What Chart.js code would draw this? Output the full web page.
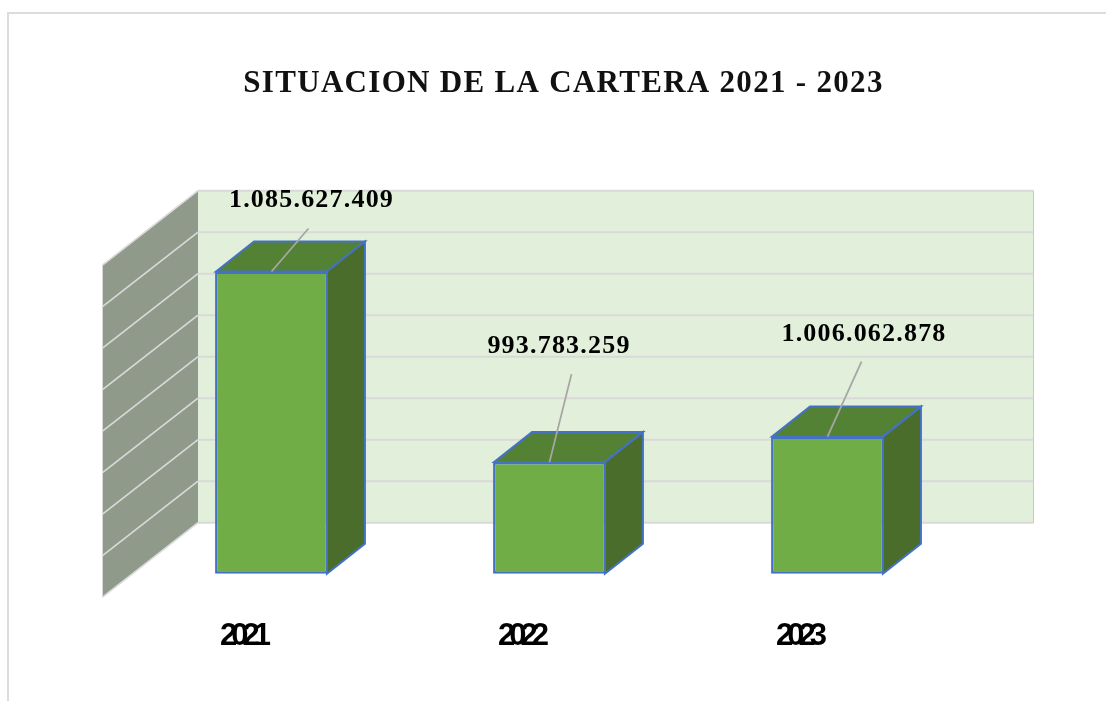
<!DOCTYPE html>
<html lang="es">
<head>
<meta charset="utf-8">
<title>Situacion de la cartera</title>
<script src="https://cdn.jsdelivr.net/npm/chart.js@4"></script>
<style>
    html, body { margin: 0; background: #fff; overflow: hidden; }
    #frame { position: absolute; left: 7px; top: 12px; right: 0; bottom: 0; border-left: 2px solid #dcdcdc; border-top: 2px solid #dcdcdc; }
    #cartera { position: absolute; left: 0; top: 0; }
</style>
</head>
<body>
<div id="frame"></div>
<canvas id="cartera" width="1106" height="701"></canvas>
<script>
const titulo = "SITUACION DE LA CARTERA 2021 - 2023";
const categorias = ["2021", "2022", "2023"];
const saldos = [1085627409, 993783259, 1006062878];
const ejeMin = 940000000;
const ejeMax = 1100000000;
const ejePaso = 20000000;

const colores = {
    muroFondo: "#e2efda",
    muroLado: "#8f9a8b",
    rejilla: "#d9d9d9",
    frente: "#70ad47",
    techo: "#548235",
    lado: "#4a6d2b",
    borde: "#4472c4",
    guia: "#a6a6a6"
};

// profundidad del 3D, en pixeles
const fondo = { dx: 65.5, dy: -51 };
const frenteSuelo = { dx: -30, dy: 23.5 };
const barra3d = { dx: 38, dy: -30 };
// etiqueta y linea guia respecto al centro superior de cada barra
const guias = [[37, -43], [22, -88], [34, -75]];
const etiquetas = [[40, -71], [9.5, -116], [36.5, -102]];

function poligono(ctx, puntos, relleno, trazo, ancho) {
    ctx.beginPath();
    puntos.forEach((p, i) => i ? ctx.lineTo(p[0], p[1]) : ctx.moveTo(p[0], p[1]));
    ctx.closePath();
    ctx.fillStyle = relleno;
    ctx.fill();
    if (trazo) {
        ctx.strokeStyle = trazo;
        ctx.lineWidth = ancho;
        ctx.stroke();
    }
}

function linea(ctx, x1, y1, x2, y2, color, ancho) {
    ctx.beginPath();
    ctx.moveTo(x1, y1);
    ctx.lineTo(x2, y2);
    ctx.strokeStyle = color;
    ctx.lineWidth = ancho;
    ctx.stroke();
}

const plugin3d = {
    id: "plugin3d",
    beforeDraw(chart) {
        // el titulo nativo se dibuja con este espaciado
        chart.ctx.letterSpacing = "1.3px";
    },
    beforeDatasetsDraw(chart) {
        const ctx = chart.ctx;
        const area = chart.chartArea;
        const y = chart.scales.y;
        const backL = area.left + fondo.dx;
        const backR = area.right + 67;
        const frontL = area.left + frenteSuelo.dx;

        ctx.save();
        poligono(ctx, [[backL, area.top + fondo.dy], [backR, area.top + fondo.dy], [backR, area.bottom + fondo.dy], [backL, area.bottom + fondo.dy]], colores.muroFondo);
        poligono(ctx, [[frontL, area.top + frenteSuelo.dy], [backL, area.top + fondo.dy], [backL, area.bottom + fondo.dy], [frontL, area.bottom + frenteSuelo.dy]], colores.muroLado);

        y.ticks.forEach(t => {
            const py = y.getPixelForValue(t.value);
            linea(ctx, backL, py + fondo.dy, backR, py + fondo.dy, colores.rejilla, 2);
            linea(ctx, frontL, py + frenteSuelo.dy, backL, py + fondo.dy, colores.rejilla, 1.7);
        });
        linea(ctx, frontL, area.top + frenteSuelo.dy, frontL, area.bottom + frenteSuelo.dy, colores.rejilla, 1);
        linea(ctx, backR, area.top + fondo.dy, backR, area.bottom + fondo.dy, "#c6ccbf", 1);

        // caras de techo y lateral de cada barra
        chart.getDatasetMeta(0).data.forEach(bar => {
            const h = bar.width / 2 - 1;
            const l = bar.x - h, r = bar.x + h, t = bar.y, b = bar.base;
            const d = barra3d;
            poligono(ctx, [[l, t], [l + d.dx, t + d.dy], [r + d.dx, t + d.dy], [r, t]], colores.techo, colores.borde, 2);
            poligono(ctx, [[r, t], [r + d.dx, t + d.dy], [r + d.dx, b + d.dy], [r, b]], colores.lado, colores.borde, 2);
        });
        ctx.restore();
    },
    afterDatasetsDraw(chart) {
        const ctx = chart.ctx;
        ctx.save();
        ctx.font = "bold 26px 'Liberation Serif', serif";
        ctx.letterSpacing = "1.2px";
        ctx.textAlign = "center";
        ctx.textBaseline = "middle";
        ctx.fillStyle = "#000";
        chart.getDatasetMeta(0).data.forEach((bar, i) => {
            linea(ctx, bar.x, bar.y, bar.x + guias[i][0], bar.y + guias[i][1], colores.guia, 1.8);
            const txt = String(saldos[i]).replace(/\B(?=(\d{3})+$)/g, ".");
            ctx.fillText(txt, bar.x + etiquetas[i][0], bar.y + etiquetas[i][1]);
        });
        ctx.restore();
        // las etiquetas del eje x van despues (z: 1) y salen apretadas
        ctx.letterSpacing = "-6px";
    },
    afterDraw(chart) {
        chart.ctx.letterSpacing = "0px";
    }
};

new Chart(document.getElementById("cartera"), {
    type: "bar",
    data: {
        labels: categorias,
        datasets: [{
            data: saldos,
            base: ejeMin,
            backgroundColor: colores.frente,
            borderColor: colores.borde,
            borderWidth: 2.5,
            borderSkipped: false,
            barPercentage: 0.406,
            categoryPercentage: 1,
            clip: false
        }]
    },
    options: {
        responsive: false,
        animation: false,
        layout: { padding: { left: 21, right: 0, top: 0, bottom: 0 } },
        plugins: {
            legend: { display: false },
            tooltip: { enabled: false },
            title: {
                display: true,
                text: titulo,
                color: "#111",
                font: { family: "'Liberation Serif', serif", size: 31, weight: "bold" },
                padding: { top: 64.9, bottom: 139.6 }
            }
        },
        scales: {
            x: {
                grid: { display: false },
                border: { display: false },
                afterFit(s) { s.height = 127.3; },
                ticks: {
                    z: 1,
                    padding: 36.3,
                    labelOffset: -29,
                    color: "#000",
                    maxRotation: 0,
                    font: { family: "'Liberation Sans', sans-serif", size: 31, weight: "bold" }
                }
            },
            y: {
                min: ejeMin,
                max: ejeMax,
                grid: { display: false },
                border: { display: false },
                afterFit(s) { s.width = 111.5; },
                ticks: { stepSize: ejePaso, display: false }
            },
            derecha: {
                position: "right",
                grid: { display: false },
                border: { display: false },
                afterFit(s) { s.width = 139.5; },
                ticks: { display: false }
            }
        }
    },
    plugins: [plugin3d]
});
</script>
</body>
</html>
